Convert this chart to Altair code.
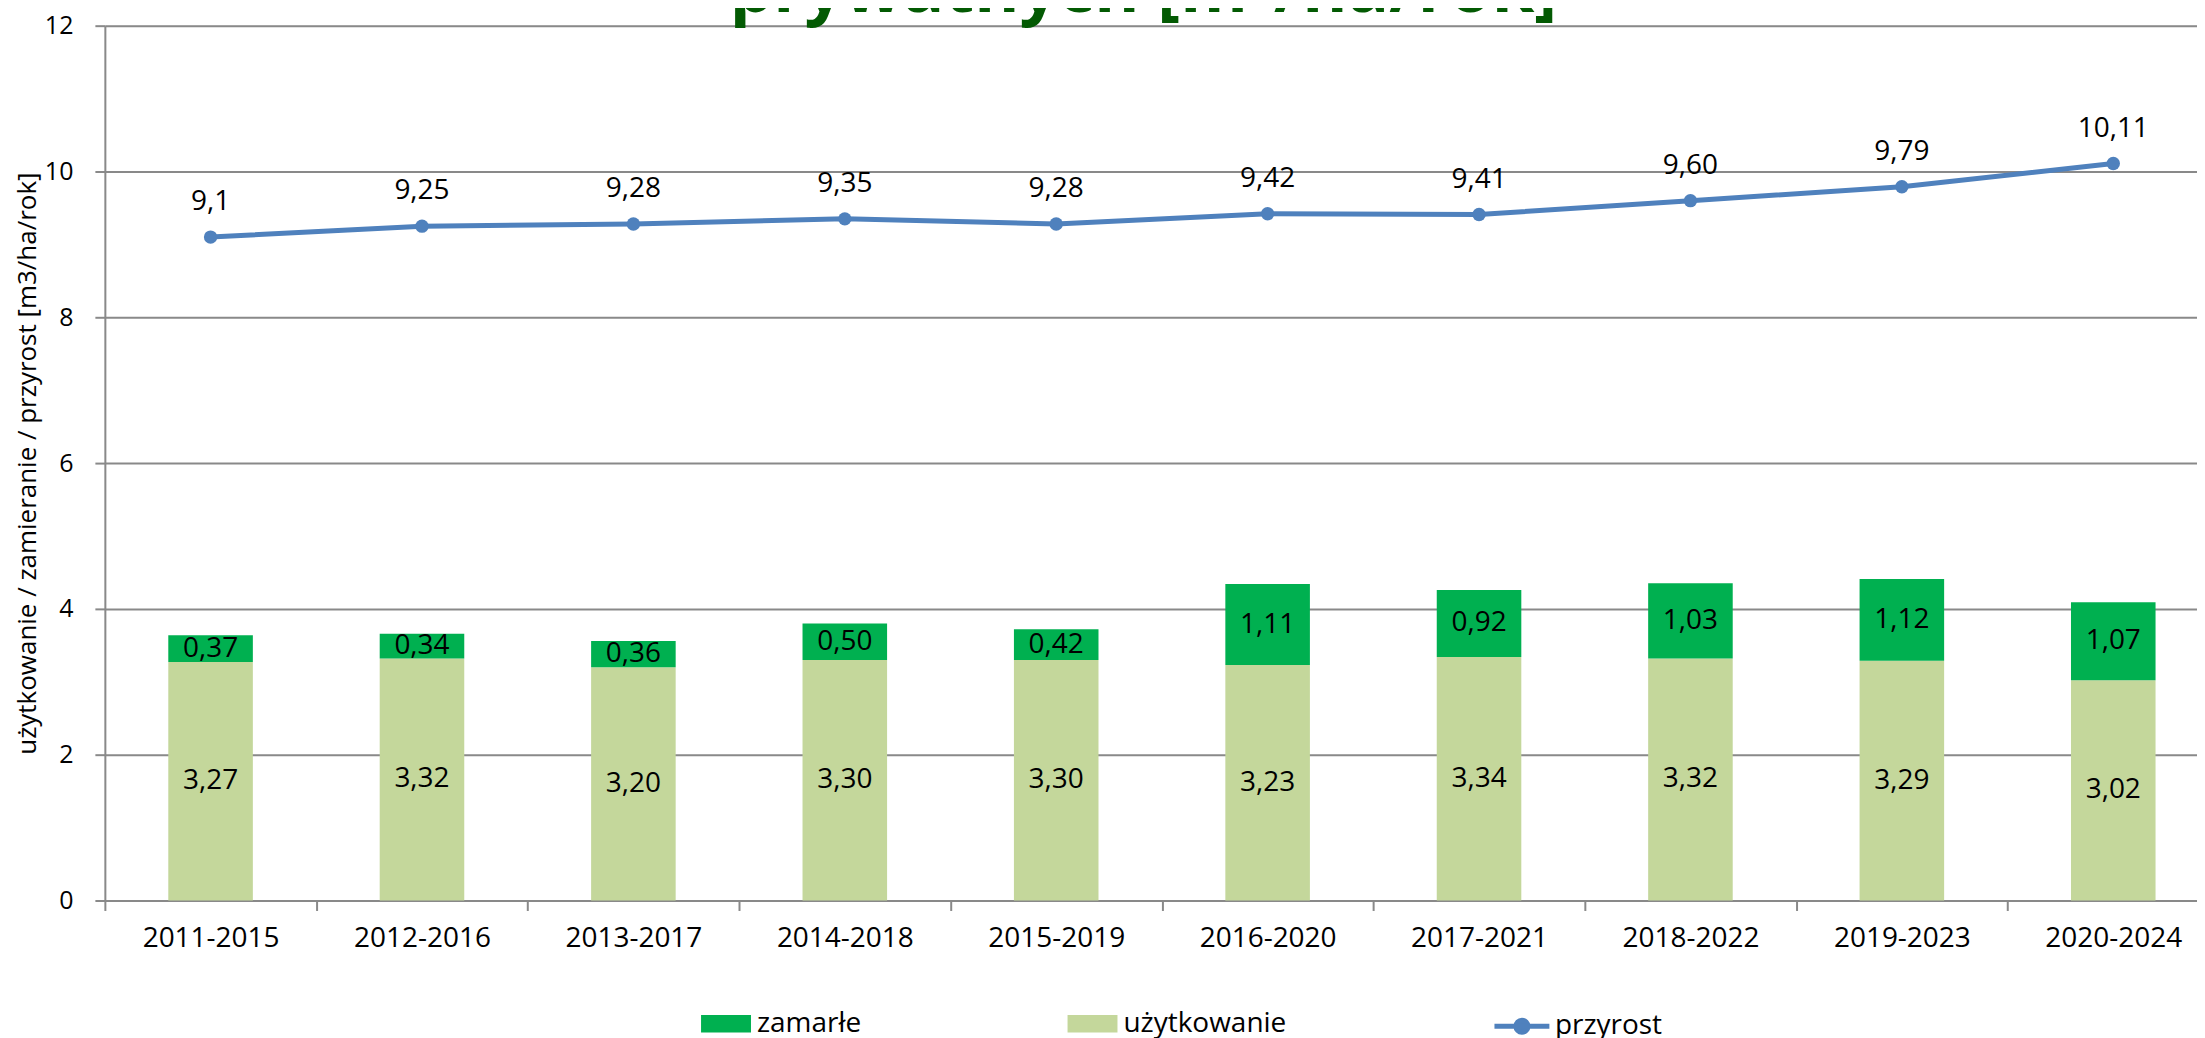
import altair as alt
import pandas as pd

okresy = ["2011-2015", "2012-2016", "2013-2017", "2014-2018", "2015-2019",
          "2016-2020", "2017-2021", "2018-2022", "2019-2023", "2020-2024"]
uzytkowanie = [3.27, 3.32, 3.20, 3.30, 3.30, 3.23, 3.34, 3.32, 3.29, 3.02]
zamarle = [0.37, 0.34, 0.36, 0.50, 0.42, 1.11, 0.92, 1.03, 1.12, 1.07]
przyrost = [9.10, 9.25, 9.28, 9.35, 9.28, 9.42, 9.41, 9.60, 9.79, 10.11]
przyrost_etykiety = ["9,1", "9,25", "9,28", "9,35", "9,28", "9,42", "9,41", "9,60", "9,79", "10,11"]
y_ticks = [0, 2, 4, 6, 8, 10, 12]
tytul = "prywatnych [m³/ha/rok]"
y_tytul = "użytkowanie / zamieranie / przyrost [m3/ha/rok]"

C_Z = "#00B050"
C_U = "#C4D79B"
C_P = "#4F81BD"
GRID = "#898989"
FONT = "Open Sans"

df = pd.DataFrame({
    "okres": okresy,
    "u": uzytkowanie,
    "z": zamarle,
    "p": przyrost,
    "p_lab": przyrost_etykiety,
})
df["total"] = df["u"] + df["z"]
df["u_mid"] = df["u"] / 2
df["z_mid"] = df["u"] + df["z"] / 2
df["u_lab"] = [f"{v:.2f}".replace(".", ",") for v in df["u"]]
df["z_lab"] = [f"{v:.2f}".replace(".", ",") for v in df["z"]]
df["s_z"] = "zamarłe"
df["s_u"] = "użytkowanie"
df["s_p"] = "przyrost"

PLOT_W = 2095
RANGE_W = 2117
PLOT_H = 876

x_enc = alt.X(
    "okres:N", sort=okresy, title=None,
    scale=alt.Scale(range=[0, RANGE_W], paddingInner=0, paddingOuter=0),
    axis=alt.Axis(tickBand="extent", labelAngle=0, labelFont=FONT, labelFontSize=28,
                  labelColor="black", tickSize=10, labelPadding=14, grid=False,
                  domainColor=GRID, domainWidth=2, tickColor=GRID, tickWidth=2),
)
y_scale = alt.Scale(domain=[0, 12], nice=False, zero=True)
y_axis = alt.Axis(values=y_ticks, title=y_tytul, titleFont=FONT, titleFontSize=26,
                  titleFontWeight="normal", titleColor="black", titlePadding=4,
                  labelFont=FONT, labelFontSize=25, labelColor="black", labelPadding=22,
                  tickSize=10, tickColor=GRID, tickWidth=2, domainColor=GRID, domainWidth=2,
                  grid=True, gridColor=GRID, gridWidth=2, format="d")


def yq(field):
    return alt.Y(field, scale=y_scale, axis=y_axis, title=y_tytul)


base = alt.Chart(df)

rect_path = "M-1,-0.35H1V0.35H-1Z"
line_path = "M-1,0H1M-0.22,0a0.22,0.22 0 1,0 0.44,0a0.22,0.22 0 1,0 -0.44,0"
leg_common = dict(orient="none", title=None, labelFont=FONT, labelFontSize=28,
                  labelColor="black", labelLimit=0, padding=0)

bars_u = base.mark_bar(width=alt.RelativeBandSize(0.4)).encode(
    x=x_enc,
    y=yq("u:Q"),
    fill=alt.Fill("s_u:N", scale=alt.Scale(domain=["użytkowanie"], range=[C_U]),
                  legend=alt.Legend(legendX=964, legendY=974.5,
                                    symbolType=rect_path, symbolSize=2500, symbolStrokeWidth=0,
                                    labelOffset=6, **leg_common)),
)
bars_z = base.mark_bar(width=alt.RelativeBandSize(0.4)).encode(
    x=x_enc,
    y=yq("u:Q"),
    y2="total:Q",
    color=alt.Color("s_z:N", scale=alt.Scale(domain=["zamarłe"], range=[C_Z]),
                    legend=alt.Legend(legendX=597, legendY=974.5,
                                      symbolType=rect_path, symbolSize=2500, symbolStrokeWidth=0,
                                      labelOffset=6, **leg_common)),
)
line = base.mark_line(strokeWidth=5).encode(
    x=x_enc,
    y=yq("p:Q"),
    stroke=alt.Stroke("s_p:N", scale=alt.Scale(domain=["przyrost"], range=[C_P]),
                      legend=alt.Legend(legendX=1389, legendY=972,
                                        symbolType=line_path, symbolSize=3025, symbolStrokeWidth=5,
                                        symbolFillColor=C_P, labelOffset=3, **leg_common)),
)
points = base.mark_circle(size=180, opacity=1, color=C_P).encode(
    x=x_enc, y=yq("p:Q"),
)
p_labels = base.mark_text(font=FONT, fontSize=28, color="black", dy=-35, baseline="middle").encode(
    x=x_enc, y=yq("p:Q"), text="p_lab:N",
)
u_labels = base.mark_text(font=FONT, fontSize=28, color="black", baseline="middle").encode(
    x=x_enc, y=yq("u_mid:Q"), text="u_lab:N",
)
z_labels = base.mark_text(font=FONT, fontSize=28, color="black", baseline="middle").encode(
    x=x_enc, y=yq("z_mid:Q"), text="z_lab:N",
)
title_df = pd.DataFrame({"t": [tytul]})
title_mark = alt.Chart(title_df).mark_text(
    font=FONT, fontSize=69, fontWeight="bold", color="#035A03", baseline="alphabetic", align="center"
).encode(text="t:N", x=alt.value(1040), y=alt.value(-14))

chart = alt.layer(bars_u, bars_z, line, points, p_labels, u_labels, z_labels, title_mark).properties(
    width=PLOT_W, height=PLOT_H,
    autosize=alt.AutoSizeParams(type="none"),
    padding={"left": 97, "top": 17, "right": 0, "bottom": 140},
).configure_view(stroke=None).configure(background="white")

chart.save("out.html", embed_options={"renderer": "svg", "actions": False})
